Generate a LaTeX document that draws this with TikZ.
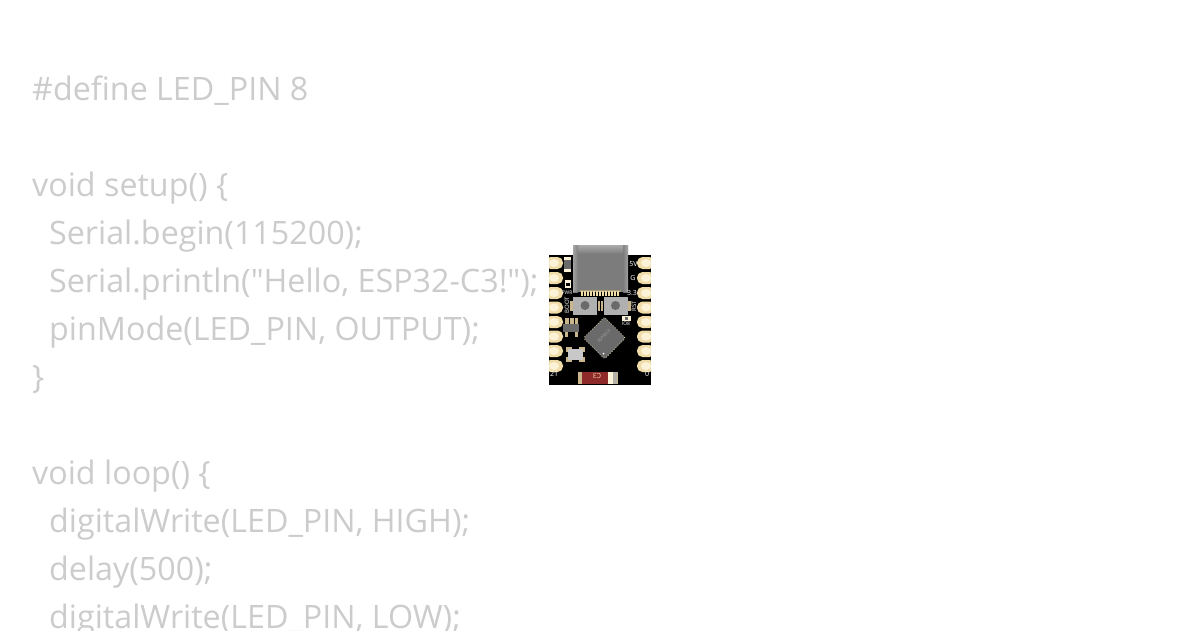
\documentclass[tikz,border=0pt]{standalone}
\usepackage{fontspec}
\newfontfamily\codefont{Open Sans}
\setmainfont{Open Sans}
\definecolor{codegray}{HTML}{CCCCCC}
\definecolor{padcream}{HTML}{EFDCA8}
\definecolor{padin}{HTML}{FCF2D8}
\definecolor{padtan}{HTML}{C9B68C}
\definecolor{usbgray}{HTML}{7C7C7C}
\definecolor{usbtop}{HTML}{ABABAB}
\definecolor{chipgray}{HTML}{6A6A6A}
\definecolor{btngray}{HTML}{B0B0B0}
\definecolor{fuse}{HTML}{8E2A2A}
\tikzset{
  codeline/.style={anchor=base west,inner sep=0pt,text=codegray,font=\codefont\fontsize{32.25}{32.25}\selectfont},
  pad/.style={fill=padcream,draw=none,rounded corners=5.5pt},
  padhole/.style={fill=padin,draw=none},
  silk/.style={text=white,inner sep=0pt,font=\fontsize{7}{7}\selectfont},
  silksmall/.style={text=white,inner sep=0pt,font=\fontsize{5}{5}\selectfont},
}
\begin{document}
\begin{tikzpicture}[x=1pt,y=-1pt]
\useasboundingbox[fill=white] (0,0) rectangle (1200,630);
\node[codeline] (l1) at (32,100) {\#define LED\_PIN 8};
\node[codeline] (l2) at (32,196) {void setup() \{};
\node[codeline] (l3) at (49,244) {Serial.begin(115200);};
\node[codeline] (l4) at (49,292) {Serial.println("Hello, ESP32-C3!");};
\node[codeline] (l5) at (49,340) {pinMode(LED\_PIN, OUTPUT);};
\node[codeline] (l6) at (32,388) {\}};
\node[codeline] (l7) at (32,484) {void loop() \{};
\node[codeline] (l8) at (49,532) {digitalWrite(LED\_PIN, HIGH);};
\node[codeline] (l9) at (49,580) {delay(500);};
\node[codeline] (l10) at (49,628) {digitalWrite(LED\_PIN, LOW);};
% board
\fill[black] (549,255) rectangle (651,385);
% pads
\foreach \y in {263,278,293,307.5,322,336.5,351,366}{
  \fill[pad] (545,\y-6) rectangle (563,\y+6);
  \fill[padhole] (554,\y) ellipse (5 and 4);
  \fill[pad] (637,\y-6) rectangle (655,\y+6);
  \fill[padhole] (646,\y) ellipse (5 and 4);
}
\fill[white] (540,250) rectangle (549,390);
\fill[white] (651,250) rectangle (660,390);
% USB connector
\fill[usbgray] (573,245) rectangle (628,292);
\shade[top color=usbtop,bottom color=usbgray] (573,245) rectangle (628,254);
\shade[left color=usbtop,right color=usbgray,opacity=0.8] (573,245) rectangle (578,292);
\shade[right color=usbtop,left color=usbgray,opacity=0.8] (623,245) rectangle (628,292);
\fill[padcream!70!black] (580,290) rectangle (621,292);
\foreach \x in {580.5,583.5,...,619}{\fill[padcream] (\x,291) rectangle (\x+2.3,296);}
% buttons
\foreach \x in {585,615.5}{
  \fill[padtan] (\x-15,301) rectangle (\x+15,311);
  \fill[black] (\x-12.5,297) rectangle (\x+12.5,315);
  \fill[btngray] (\x-12,297) rectangle (\x+12,315);
  \fill[chipgray] (\x,305.5) circle (4.5);
}
% small parts top-left
\fill[padin] (564,257) rectangle (571,272);
\fill[chipgray] (564,260) rectangle (571,269);
\fill[padin] (565,280) rectangle (570.5,288);
\fill[black] (565.5,283) rectangle (570,285.5);
% small part near chip right
\fill[padin] (622,316) rectangle (631,320.5);
\fill[chipgray] (625,316.5) rectangle (628,320);
% SOT part
\foreach \x in {567,572,576.5}{\fill[padtan] (\x-1.7,318) rectangle (\x+1.7,325);}
\foreach \x in {566.5,576.5}{\fill[padtan] (\x-1.7,331) rectangle (\x+1.7,337);}
\fill[chipgray] (563,324) rectangle (579,332);
% chip
\fill[chipgray,rounded corners=1.5pt] (604.5,317) -- (625.5,338) -- (604.5,359) -- (583.5,338) -- cycle;
\draw[padcream,dotted,line width=0.7pt,rounded corners=1.5pt] (604.5,317) -- (625.5,338) -- (604.5,359) -- (583.5,338) -- cycle;
\fill[white] (603.5,353.5) circle (1);
\node[text=btngray,inner sep=0pt,rotate=45,font=\fontsize{4}{4}\selectfont] (chipmark) at (604,336) {ESP32C3};
% crystal
\fill[padtan] (566,347) rectangle (572,352);
\fill[padtan] (579,347) rectangle (585,352);
\fill[padtan] (566,357) rectangle (572,362);
\fill[padtan] (579,357) rectangle (585,362);
\fill[btngray!70!white] (568,349) rectangle (583,360);
% fuse / LED
\fill[padtan] (578,371.5) rectangle (618,384);
\fill[fuse] (582,371.5) rectangle (608,384);
\fill[padin] (608,372) rectangle (613,383.5);
\fill[btngray!80!padtan] (613,371.5) rectangle (617,384);
\node[text=padcream,inner sep=0pt,rotate=180,font=\fontsize{7}{7}\selectfont] (c3) at (597,375.5) {C3};
% silkscreen
\node[silk] (s5v) at (633.5,264) {5V};
\node[silk] (sg) at (633,278) {G};
\node[silk] (s33) at (632,293) {3.3};
\node[silk,rotate=90,font=\fontsize{6}{6}\selectfont] (srst) at (634,306) {RST};
\node[silk,rotate=90,font=\fontsize{6}{6}\selectfont] (sboot) at (567,305) {BOOT};
\node[silksmall] (spwr) at (567,293) {PWR};
\node[silksmall] (s10) at (626,323.5) {IO8};
\node[silk] (s21) at (554,374) {21};
\node[silk] (s0) at (647,374) {0};
\end{tikzpicture}
\end{document}
